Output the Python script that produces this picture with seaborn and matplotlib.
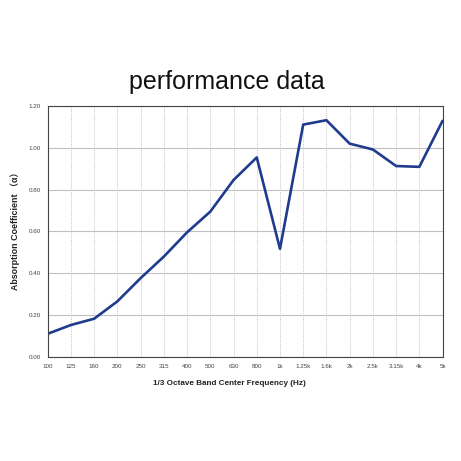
import matplotlib
matplotlib.use("Agg")
import matplotlib.pyplot as plt
import seaborn as sns
import pandas as pd
import numpy as np

freq_labels = ["100", "125", "160", "200", "250", "315", "400", "500", "630", "800",
               "1k", "1.25k", "1.6k", "2k", "2.5k", "3.15k", "4k", "5k"]
absorption = [0.111, 0.153, 0.183, 0.266, 0.377, 0.48, 0.596, 0.695, 0.846, 0.954,
              0.517, 1.111, 1.132, 1.02, 0.992, 0.913, 0.909, 1.129]
y_ticks = [0.0, 0.2, 0.4, 0.6, 0.8, 1.0, 1.2]

sns.set_theme(style="white")
plt.rcParams['font.family'] = ['Liberation Sans', 'Noto Sans CJK SC', 'DejaVu Sans']

df = pd.DataFrame({"pos": np.arange(len(freq_labels)), "alpha": absorption})

fig = plt.figure(figsize=(4.61, 4.61), dpi=100)
fig.patch.set_facecolor("white")
ax = fig.add_axes([0.1035, 0.2256, 0.8565, 0.5445])

sns.lineplot(data=df, x="pos", y="alpha", ax=ax, color="#1f3b8e", linewidth=1.9,
             solid_joinstyle="round", solid_capstyle="round")

ax.set_xlim(0, len(freq_labels) - 1)
ax.set_ylim(0, 1.2)
ax.set_xticks(np.arange(len(freq_labels)))
ax.set_xticklabels(freq_labels, fontsize=4.5, color="#444444")
ax.set_yticks(y_ticks)
ax.set_yticklabels([f"{v:.2f}" for v in y_ticks], fontsize=4.5, color="#444444")
ax.tick_params(axis="both", direction="out", length=3, width=0.6, color="#555555", pad=2)

ax.xaxis.grid(True, linestyle=(0, (1, 1.5)), color="#b0b0b0", linewidth=0.6)
ax.yaxis.grid(True, linestyle="-", color="#c0c0c0", linewidth=0.8)
ax.set_axisbelow(True)
for s in ax.spines.values():
    s.set_color("#444444")
    s.set_linewidth(0.8)

ax.set_xlabel("")
ax.set_ylabel("")
fig.text(229 / 461, 1 - 383 / 461, "1/3 Octave Band Center Frequency (Hz)",
         ha="center", va="center", fontsize=5.9, fontweight="bold", color="#222222")
fig.text(15 / 461, 1 - 229 / 461, "Absorption Coefficient （α）", rotation=90,
         ha="center", va="center", fontsize=6.4, fontweight="bold", color="#222222")
fig.text(227 / 461, 1 - 82 / 461, "performance data", ha="center", va="center",
         fontsize=18, color="#111111")

fig.savefig("out.png", dpi=100, facecolor="white")
